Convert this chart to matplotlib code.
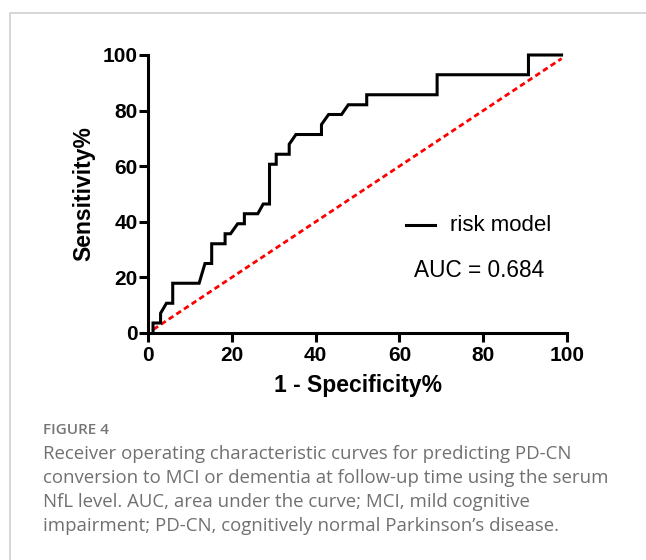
"""ROC curve for serum NfL risk model (Figure 4 recreation)."""

import matplotlib

matplotlib.use("Agg")
import matplotlib.pyplot as plt
from matplotlib.lines import Line2D

# ROC curve vertices (1 - specificity %, sensitivity %)
FPR = [1.2, 1.2, 3.0, 3.0, 4.4, 5.9, 5.9, 12.2, 13.6, 15.2, 15.2, 18.4, 18.4,
       19.7, 21.4, 23.0, 23.0, 26.2, 27.5, 29.0, 29.0, 30.6, 30.6, 33.7,
       33.7, 35.3, 41.4, 41.4, 43.1, 46.2, 47.8, 52.2, 52.2, 69.0, 69.0,
       90.8, 90.8, 98.7]
TPR = [0.0, 3.6, 3.6, 7.1, 10.7, 10.7, 17.9, 17.9, 25.0, 25.0, 32.1, 32.1,
       35.7, 35.7, 39.3, 39.3, 42.9, 42.9, 46.4, 46.4, 60.7, 60.7, 64.3,
       64.3, 67.9, 71.4, 71.4, 75.0, 78.6, 78.6, 82.1, 82.1, 85.7, 85.7,
       92.9, 92.9, 100.0, 100.0]
REF_X = [1.3, 98.7]
REF_Y = [1.3, 98.7]
TICKS = [0, 20, 40, 60, 80, 100]
AUC = 0.684

CAPTION_LINES = [
    "Receiver operating characteristic curves for predicting PD-CN",
    "conversion to MCI or dementia at follow-up time using the serum",
    "NfL level. AUC, area under the curve; MCI, mild cognitive",
    "impairment; PD-CN, cognitively normal Parkinson\u2019s disease.",
]

W, H = 646, 560
fig = plt.figure(figsize=(W / 100, H / 100), dpi=100)

# light frame around the figure panel (only top and left edges visible)
fig.add_artist(Line2D([9.5 / W, 9.5 / W, 1.0], [0.0, 1 - 13 / H, 1 - 13 / H],
                      transform=fig.transFigure, color="#cfcfcf", linewidth=1.2))

left, right, top, bottom = 148, 567, 55, 333
ax = fig.add_axes([left / W, 1 - bottom / H, (right - left) / W, (bottom - top) / H])

ax.plot(REF_X, REF_Y, color="#ff0000", linewidth=2.0, linestyle=(0, (2, 1.3)),
        clip_on=False, zorder=2)
ax.plot(FPR, TPR, color="black", linewidth=2.2, solid_joinstyle="miter",
        clip_on=False, zorder=3)

ax.set_xlim(0, 100)
ax.set_ylim(0, 100)
ax.set_xticks(TICKS)
ax.set_yticks(TICKS)
for side in ("top", "right"):
    ax.spines[side].set_visible(False)
for side in ("left", "bottom"):
    ax.spines[side].set_linewidth(2.2)
    ax.spines[side].set_capstyle("projecting")

font = "Liberation Sans"
ax.tick_params(axis="both", direction="out", length=6.5, width=2.2, labelsize=15)
ax.tick_params(axis="y", pad=1)
ax.tick_params(axis="x", pad=3)
for label in ax.get_xticklabels() + ax.get_yticklabels():
    label.set_fontfamily(font)
    label.set_fontweight("bold")

ax.set_xlabel("1 - Specificity%", fontsize=16.5, fontweight="bold", family=font, labelpad=6)
ax.set_ylabel("Sensitivity%", fontsize=16.5, fontweight="bold", family=font, labelpad=5)

# legend-like annotation
ax.plot([61.5, 68.5], [38.8, 38.8], color="black", linewidth=2.2, clip_on=False)
ax.text(72, 38.8, "risk model", fontsize=16, family=font, va="center", ha="left")
ax.text(63.5, 22.5, f"AUC = {AUC:.3f}", fontsize=16.3, family=font, va="center", ha="left")

# caption
cap_font = "Open Sans"
fig.text(43 / W, 1 - 430 / H, "FIGURE 4", fontsize=11, family=cap_font,
         fontweight="semibold", color="#767676", va="center", ha="left")
for i, line in enumerate(CAPTION_LINES):
    fig.text(43 / W, 1 - (454 + i * 24) / H, line, fontsize=13.4, family=cap_font,
             color="#707070", va="center", ha="left")

fig.savefig("out.png", dpi=100)
